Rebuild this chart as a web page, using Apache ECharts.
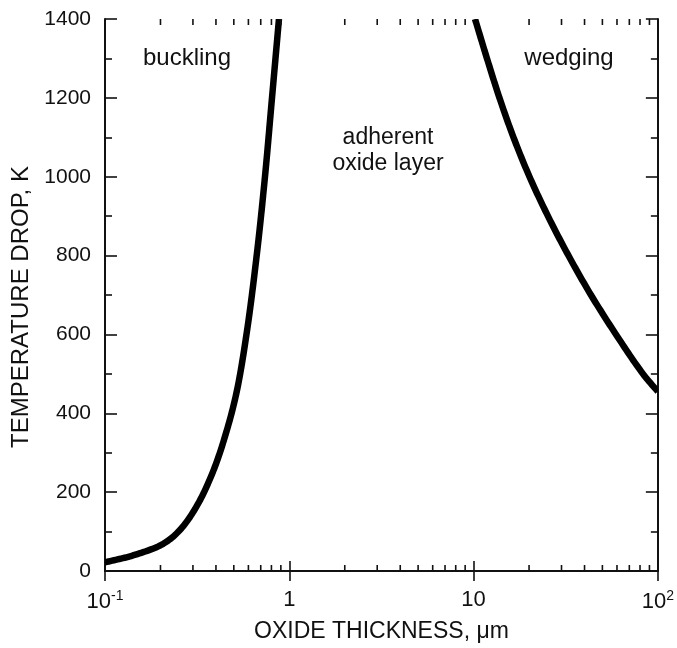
<!DOCTYPE html>
<html>
<head>
<meta charset="utf-8">
<script src="https://cdn.jsdelivr.net/npm/echarts@6/dist/echarts.min.js"></script>
<style>html,body{margin:0;padding:0;background:#fff}#c{width:677px;height:648px}</style>
</head>
<body>
<div id="c"></div>
<script>
// Data
const bucklingX = [0.1, 0.143, 0.207, 0.255, 0.315, 0.387, 0.457, 0.519, 0.59, 0.668, 0.738, 0.805, 0.879];
const bucklingY = [22, 40, 69, 104, 165, 254, 355, 456, 610, 807, 1000, 1198, 1400];
const wedgingX = [10.18, 11.82, 13.82, 16.46, 20.11, 25.33, 32.73, 43.36, 59.25, 83.0, 100];
const wedgingY = [1400, 1300, 1200, 1100, 1000, 900, 800, 700, 600, 500, 455];
const xMinorTicks = [0.2,0.3,0.4,0.5,0.6,0.7,0.8,0.9,2,3,4,5,6,7,8,9,20,30,40,50,60,70,80,90];
const xTickLabels = {'-1': '10{sup|-1}', '0': '1', '1': '10', '2': '10{sup|2}'};
const yMin = 0, yMax = 1400, yInterval = 200;

const FONT = 'Liberation Sans, Arial, sans-serif';
const INK = '#111';

// centripetal Catmull-Rom through pixel points (rendering only)
function splinePixels(pts, steps) {
  const out = [];
  const n = pts.length;
  const ext = (a, b) => [2 * a[0] - b[0], 2 * a[1] - b[1]];
  const d = (a, b) => Math.pow(Math.hypot(b[0] - a[0], b[1] - a[1]), 0.5) || 1e-6;
  const lerp = (a, b, ta, tb, t) => {
    const w = (t - ta) / (tb - ta);
    return [a[0] + (b[0] - a[0]) * w, a[1] + (b[1] - a[1]) * w];
  };
  for (let i = 0; i < n - 1; i++) {
    const p0 = i > 0 ? pts[i - 1] : ext(pts[0], pts[1]);
    const p1 = pts[i], p2 = pts[i + 1];
    const p3 = i + 2 < n ? pts[i + 2] : ext(pts[n - 1], pts[n - 2]);
    const t0 = 0, t1 = t0 + d(p0, p1), t2 = t1 + d(p1, p2), t3 = t2 + d(p2, p3);
    for (let s = 0; s < steps; s++) {
      const t = t1 + (t2 - t1) * s / steps;
      const a1 = lerp(p0, p1, t0, t1, t), a2 = lerp(p1, p2, t1, t2, t), a3 = lerp(p2, p3, t2, t3, t);
      const b1 = lerp(a1, a2, t0, t2, t), b2 = lerp(a2, a3, t1, t3, t);
      out.push(lerp(b1, b2, t1, t2, t));
    }
  }
  out.push(pts[n - 1]);
  return out;
}

function curveSeries(xs, ys) {
  return {
    type: 'custom', xAxisIndex: 0, yAxisIndex: 0, silent: true, clip: true,
    data: xs.map((x, i) => [x, ys[i]]),
    renderItem: function (params, api) {
      if (params.dataIndex !== 0) return null;
      const px = xs.map((x, i) => api.coord([x, ys[i]]));
      return {
        type: 'polyline',
        shape: {points: splinePixels(px, 16)},
        style: {stroke: '#000', lineWidth: 6.5, fill: null, lineJoin: 'round'}
      };
    }
  };
}

const chart = echarts.init(document.getElementById('c'), null, {renderer: 'canvas'});

const commonX = {
  type: 'log', logBase: 10, min: 0.1, max: 100,
  axisLine: {show: true, lineStyle: {color: INK, width: 2}},
  axisTick: {show: true, inside: true, length: 10, lineStyle: {color: INK, width: 1.6}},
  minorTick: {show: false},
  splitLine: {show: false}
};
const commonY = {
  type: 'value', min: yMin, max: yMax, interval: yInterval,
  axisLine: {show: true, lineStyle: {color: INK, width: 2}},
  axisTick: {show: true, inside: true, length: 12, lineStyle: {color: INK, width: 1.6}},
  minorTick: {show: true, splitNumber: 2, length: 7, lineStyle: {color: INK, width: 1.6}},
  splitLine: {show: false}
};

chart.setOption({
  animation: false,
  backgroundColor: '#fff',
  grid: {left: 105, right: 19, top: 19, bottom: 74, containLabel: false},
  xAxis: [
    Object.assign({}, commonX, {
      position: 'bottom',
      name: 'OXIDE THICKNESS, \u03bcm', nameLocation: 'middle', nameGap: 49,
      nameTextStyle: {fontFamily: FONT, fontSize: 23, color: INK},
      axisLabel: {
        show: true, margin: 18, fontFamily: FONT, fontSize: 22, color: INK,
        formatter: function (v) {
          const e = String(Math.round(Math.log10(v)));
          return xTickLabels[e] !== undefined ? xTickLabels[e] : '';
        },
        rich: {sup: {fontSize: 14, verticalAlign: 'top', padding: [0, 0, 12, 0], fontFamily: FONT, color: INK}}
      }
    }),
    Object.assign({}, commonX, {position: 'top', axisLabel: {show: false}})
  ],
  yAxis: [
    Object.assign({}, commonY, {
      position: 'left',
      name: 'TEMPERATURE DROP, K', nameLocation: 'middle', nameGap: 72,
      nameTextStyle: {fontFamily: FONT, fontSize: 24, color: INK, padding: [0, 24, 0, 0]},
      axisLabel: {show: true, margin: 14, fontFamily: FONT, fontSize: 21, color: INK,
        formatter: function (v) { return String(v); }}
    }),
    Object.assign({}, commonY, {position: 'right', axisLabel: {show: false}})
  ],
  series: [
    curveSeries(bucklingX, bucklingY),
    curveSeries(wedgingX, wedgingY),
    {
      type: 'custom', xAxisIndex: 0, yAxisIndex: 0, silent: true, clip: false,
      data: xMinorTicks.map(v => [v]),
      renderItem: function (params, api) {
        const b = api.coord([api.value(0), yMin]);
        const t = api.coord([api.value(0), yMax]);
        const st = {stroke: INK, lineWidth: 1.6};
        return {type: 'group', children: [
          {type: 'line', shape: {x1: b[0], y1: b[1], x2: b[0], y2: b[1] - 6}, style: st},
          {type: 'line', shape: {x1: t[0], y1: t[1], x2: t[0], y2: t[1] + 6}, style: st}
        ]};
      }
    }
  ],
  graphic: [
    {type: 'text', x: 187, y: 58, style: {text: 'buckling', fontFamily: FONT, fontSize: 24, fill: INK, align: 'center', verticalAlign: 'middle'}},
    {type: 'text', x: 569, y: 58, style: {text: 'wedging', fontFamily: FONT, fontSize: 24, fill: INK, align: 'center', verticalAlign: 'middle'}},
    {type: 'text', x: 388, y: 125, style: {text: 'adherent\noxide layer', fontFamily: FONT, fontSize: 23, fill: INK, align: 'center', lineHeight: 26}}
  ]
});
</script>
</body>
</html>
